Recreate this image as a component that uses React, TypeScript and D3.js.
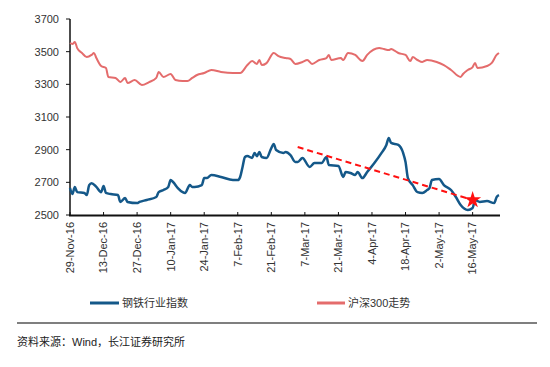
import React from "react";
import * as d3 from "d3";

const steelDates = ["2016-11-29","2016-11-30","2016-12-01","2016-12-02","2016-12-05","2016-12-06","2016-12-07","2016-12-08","2016-12-10","2016-12-12","2016-12-13","2016-12-14","2016-12-16","2016-12-19","2016-12-20","2016-12-22","2016-12-23","2016-12-27","2016-12-28","2016-12-31","2017-01-04","2017-01-05","2017-01-07","2017-01-09","2017-01-10","2017-01-11","2017-01-13","2017-01-15","2017-01-16","2017-01-18","2017-01-19","2017-01-20","2017-01-23","2017-01-24","2017-01-25","2017-01-27","2017-01-31","2017-02-05","2017-02-07","2017-02-08","2017-02-09","2017-02-10","2017-02-11","2017-02-13","2017-02-14","2017-02-15","2017-02-16","2017-02-17","2017-02-19","2017-02-21","2017-02-22","2017-02-23","2017-02-26","2017-02-27","2017-03-01","2017-03-03","2017-03-04","2017-03-06","2017-03-09","2017-03-11","2017-03-14","2017-03-16","2017-03-17","2017-03-21","2017-03-23","2017-03-24","2017-03-26","2017-03-28","2017-03-29","2017-03-31","2017-04-02","2017-04-05","2017-04-08","2017-04-10","2017-04-11","2017-04-12","2017-04-15","2017-04-17","2017-04-18","2017-04-19","2017-04-21","2017-04-23","2017-04-25","2017-04-27","2017-04-28","2017-04-29","2017-05-02","2017-05-04","2017-05-07","2017-05-09","2017-05-11","2017-05-14","2017-05-16","2017-05-17","2017-05-19","2017-05-22","2017-05-25","2017-05-26","2017-05-27"];
const steelValues = [2665,2628,2672,2640,2635,2622,2683,2695,2672,2640,2678,2635,2628,2622,2580,2604,2580,2573,2580,2592,2610,2640,2653,2672,2714,2702,2665,2640,2635,2683,2672,2672,2683,2726,2726,2745,2733,2714,2714,2733,2794,2855,2861,2849,2880,2860,2886,2855,2849,2910,2935,2898,2880,2886,2867,2825,2825,2849,2794,2818,2818,2855,2806,2800,2733,2763,2757,2745,2763,2726,2763,2818,2880,2929,2971,2941,2929,2880,2825,2726,2683,2640,2635,2653,2665,2714,2720,2683,2653,2610,2561,2531,2543,2592,2580,2585,2573,2610,2622];

const hsDates = ["2016-11-29","2016-11-30","2016-12-01","2016-12-02","2016-12-04","2016-12-06","2016-12-08","2016-12-09","2016-12-10","2016-12-12","2016-12-14","2016-12-15","2016-12-18","2016-12-20","2016-12-22","2016-12-23","2016-12-26","2016-12-29","2017-01-01","2017-01-04","2017-01-05","2017-01-07","2017-01-10","2017-01-12","2017-01-15","2017-01-17","2017-01-19","2017-01-21","2017-01-24","2017-01-27","2017-01-31","2017-02-05","2017-02-08","2017-02-11","2017-02-13","2017-02-15","2017-02-16","2017-02-17","2017-02-19","2017-02-22","2017-02-24","2017-02-27","2017-03-01","2017-03-03","2017-03-06","2017-03-08","2017-03-10","2017-03-13","2017-03-16","2017-03-17","2017-03-18","2017-03-22","2017-03-23","2017-03-25","2017-03-28","2017-03-31","2017-04-02","2017-04-07","2017-04-09","2017-04-11","2017-04-12","2017-04-13","2017-04-15","2017-04-18","2017-04-20","2017-04-21","2017-04-23","2017-04-25","2017-04-27","2017-05-01","2017-05-04","2017-05-07","2017-05-11","2017-05-12","2017-05-14","2017-05-16","2017-05-17","2017-05-18","2017-05-22","2017-05-24","2017-05-26","2017-05-27"];
const hsValues = [3553,3547,3559,3522,3492,3467,3480,3492,3461,3412,3400,3345,3339,3314,3339,3308,3326,3296,3314,3339,3376,3345,3363,3326,3320,3320,3339,3357,3369,3388,3376,3369,3369,3418,3443,3425,3449,3418,3430,3492,3473,3461,3455,3425,3437,3449,3425,3449,3461,3480,3449,3461,3449,3492,3480,3443,3480,3522,3516,3510,3516,3510,3492,3480,3443,3467,3449,3437,3449,3437,3418,3388,3345,3363,3388,3406,3431,3400,3412,3431,3480,3492];

const trendDates = ["2017-03-04", "2017-05-16"];
const trendValues = [2916, 2592];

const tickLabels = ["29-Nov-16","13-Dec-16","27-Dec-16","10-Jan-17","24-Jan-17","7-Feb-17","21-Feb-17","7-Mar-17","21-Mar-17","4-Apr-17","18-Apr-17","2-May-17","16-May-17"];
const yTicks = [2500, 2700, 2900, 3100, 3300, 3500, 3700];
const seriesNames = ["钢铁行业指数", "沪深300走势"];
const sourceText = "资料来源：Wind，长江证券研究所";

const parse = d3.timeParse("%Y-%m-%d");
const parseTick = d3.timeParse("%d-%b-%y");

const BLUE = "#145889";
const PINK = "#E46C6C";
const FONT = "Arial, 'Liberation Sans', 'Noto Sans CJK SC', sans-serif";

export default function App() {
  const x = d3
    .scaleTime()
    .domain([parse("2016-11-29")!, parse("2017-05-27")!])
    .range([70, 499]);
  const y = d3.scaleLinear().domain([2500, 3700]).range([215, 19]);

  const line = d3
    .line<[Date, number]>()
    .x((d) => x(d[0]))
    .y((d) => y(d[1]))
    .curve(d3.curveMonotoneX);

  const steel: [Date, number][] = steelDates.map((d, i) => [parse(d)!, steelValues[i]]);
  const hs: [Date, number][] = hsDates.map((d, i) => [parse(d)!, hsValues[i]]);
  const trend: [Date, number][] = trendDates.map((d, i) => [parse(d)!, trendValues[i]]);

  const starPath = d3.symbol().type(d3.symbolStar).size(90)()!;
  const endPt = trend[trend.length - 1];

  return (
    <svg
      width={550}
      height={367}
      style={{ position: "absolute", left: 0, top: 0, background: "#fff" }}
      fontFamily={FONT}
    >
      {/* y axis */}
      <line x1={70} x2={70} y1={y(3700)} y2={216} stroke="#111" strokeWidth={1.5} />
      {yTicks.map((t) => (
        <g key={t}>
          <line x1={66} x2={70} y1={y(t)} y2={y(t)} stroke="#111" strokeWidth={1} />
          <text x={59} y={y(t)} dy="0.35em" textAnchor="end" fontSize={11} fill="#333">
            {t}
          </text>
        </g>
      ))}
      {/* x axis */}
      <line x1={69} x2={500} y1={215.5} y2={215.5} stroke="#111" strokeWidth={2} />
      {tickLabels.map((t) => {
        const xx = x(parseTick(t)!);
        return (
          <g key={t}>
            <line x1={xx} x2={xx} y1={212} y2={215} stroke="#111" strokeWidth={1} />
            <text
              transform={`translate(${xx},222) rotate(-90)`}
              dy="0.35em"
              textAnchor="end"
              fontSize={11}
              fill="#333"
            >
              {t}
            </text>
          </g>
        );
      })}
      {/* series */}
      <path d={line(hs)!} fill="none" stroke={PINK} strokeWidth={2} strokeLinejoin="round" />
      <path d={line(steel)!} fill="none" stroke={BLUE} strokeWidth={2.5} strokeLinejoin="round" />
      {/* trend */}
      <path
        d={d3.line<[Date, number]>().x((d) => x(d[0])).y((d) => y(d[1]))(trend)!}
        fill="none"
        stroke="#FF1010"
        strokeWidth={2}
        strokeDasharray="6,4"
      />
      <path d={starPath} transform={`translate(${x(endPt[0])},${y(endPt[1])})`} fill="#FF1010" />
      {/* legend */}
      <line x1={90} x2={119} y1={303} y2={303} stroke={BLUE} strokeWidth={3} />
      <text x={122} y={303} dy="0.35em" fontSize={11} fill="#333">
        {seriesNames[0]}
      </text>
      <line x1={317} x2={345} y1={303} y2={303} stroke={PINK} strokeWidth={3} />
      <text x={348} y={303} dy="0.35em" fontSize={11} fill="#333">
        {seriesNames[1]}
      </text>
      {/* footer */}
      <line x1={17} x2={537} y1={323} y2={323} stroke="#555" strokeWidth={1.5} />
      <text x={17} y={342} dy="0.35em" fontSize={11} fill="#222">
        {sourceText}
      </text>
    </svg>
  );
}
